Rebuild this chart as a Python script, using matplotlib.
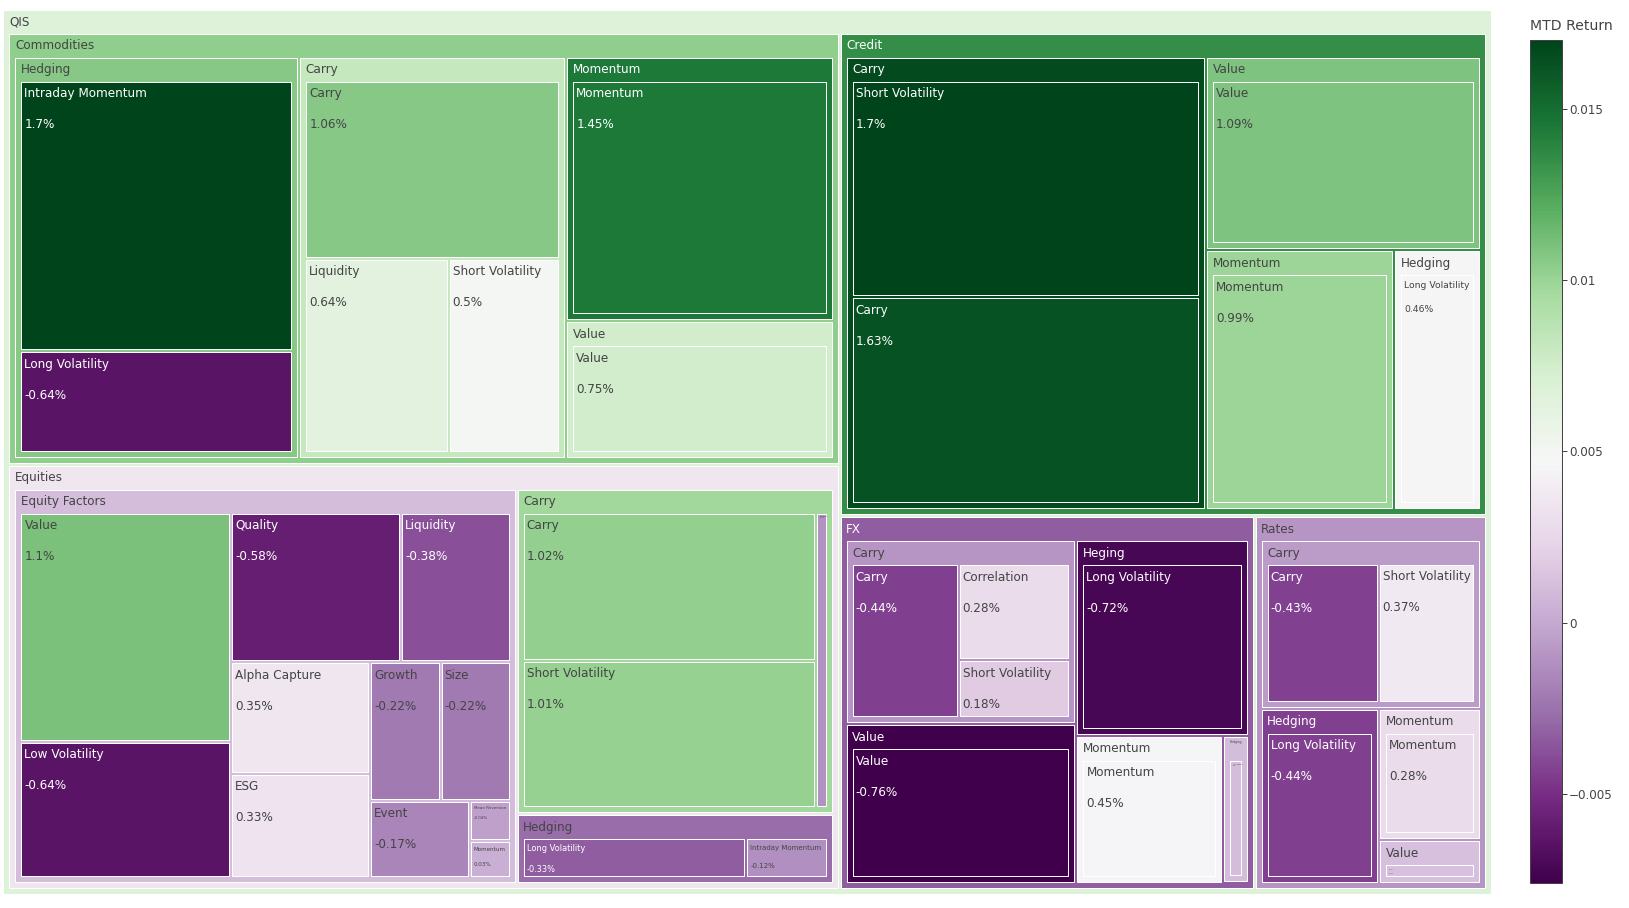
import matplotlib
matplotlib.use("Agg")
import matplotlib.pyplot as plt
from matplotlib.colors import LinearSegmentedColormap, Normalize
from matplotlib.patches import Rectangle
from matplotlib.cm import ScalarMappable

W, H, DPI = 1629, 908, 100

ROOT_LABEL = "QIS"
asset = ["Commodities"] * 7 + ["Equities"] * 16 + ["Credit"] * 5 + ["FX"] * 7 + ["Rates"] * 5
style = ["Hedging", "Hedging", "Carry", "Carry", "Carry", "Momentum", "Value",
         "Equity Factors", "Equity Factors", "Equity Factors", "Equity Factors", "Equity Factors",
         "Equity Factors", "Equity Factors", "Equity Factors", "Equity Factors", "Equity Factors",
         "Equity Factors", "Carry", "Carry", "Carry", "Hedging", "Hedging",
         "Carry", "Carry", "Value", "Momentum", "Hedging",
         "Carry", "Carry", "Carry", "Heging", "Value", "Momentum", "Hedging",
         "Carry", "Carry", "Hedging", "Momentum", "Value"]
strategy = ["Intraday Momentum", "Long Volatility", "Carry", "Liquidity", "Short Volatility", "Momentum", "Value",
            "Value", "Low Volatility", "Quality", "Liquidity", "Alpha Capture",
            "ESG", "Growth", "Size", "Event", "Mean Reversion",
            "Momentum", "Carry", "Short Volatility", "Momentum", "Long Volatility", "Intraday Momentum",
            "Short Volatility", "Carry", "Value", "Momentum", "Long Volatility",
            "Carry", "Correlation", "Short Volatility", "Long Volatility", "Value", "Momentum", "Long Volatility",
            "Carry", "Short Volatility", "Long Volatility", "Momentum", "Value"]
size = [83.8, 31.5, 51.8, 31.65, 24.67, 71.3, 36.9,
        53.9, 31.9, 28.4, 18.3, 17.4,
        16.2, 10.9, 10.9, 8.5, 1.86,
        1.67, 50.1, 49.9, 4.06, 16.2, 5.9,
        83.8, 80.1, 53.5, 49.0, 22.6,
        21.5, 14.0, 8.5, 34.9, 38.0, 22.4, 3.9,
        21.1, 18.2, 21.9, 14.2, 4.7]
mtd = [0.017, -0.0064, 0.0106, 0.0064, 0.005, 0.0145, 0.0075,
       0.011, -0.0064, -0.0058, -0.0038, 0.0035,
       0.0033, -0.0022, -0.0022, -0.0017, -0.0004,
       0.0003, 0.0102, 0.0101, -0.0011, -0.0033, -0.0012,
       0.017, 0.0163, 0.0109, 0.0099, 0.0046,
       -0.0044, 0.0028, 0.0018, -0.0072, -0.0076, 0.0045, 0.001,
       -0.0043, 0.0037, -0.0044, 0.0028, 0.0012]

cbar_ticks = [-0.005, 0, 0.005, 0.01, 0.015]
cbar_ticklabels = ["\u22120.005", "0", "0.005", "0.01", "0.015"]
cbar_title = "MTD Return"

PRGN = [(64, 0, 75), (118, 42, 131), (153, 112, 171), (194, 165, 207), (231, 212, 232),
        (247, 247, 247), (217, 240, 211), (166, 219, 160), (90, 174, 97), (27, 120, 55), (0, 68, 27)]
cmap = LinearSegmentedColormap.from_list(
    "prgn", [(i / 10, tuple(v / 255 for v in c)) for i, c in enumerate(PRGN)])
norm = Normalize(vmin=min(mtd), vmax=max(mtd))


class Node:
    def __init__(self, label, depth):
        self.label = label
        self.depth = depth
        self.children = []
        self.value = 0.0
        self.wsum = 0.0
        self.x0 = self.y0 = self.x1 = self.y1 = 0.0

    def child(self, label):
        for c in self.children:
            if c.label == label:
                return c
        c = Node(label, self.depth + 1)
        self.children.append(c)
        return c


root = Node(ROOT_LABEL, 0)
for a, s, t, v, m in zip(asset, style, strategy, size, mtd):
    leaf = Node(t, 3)
    leaf.value = v
    leaf.wsum = v * m
    root.child(a).child(s).children.append(leaf)


def accumulate(n):
    if n.children:
        n.value = 0.0
        n.wsum = 0.0
        for c in n.children:
            accumulate(c)
            n.value += c.value
            n.wsum += c.wsum
        n.children.sort(key=lambda c: -c.value)
    n.color_val = n.wsum / n.value


accumulate(root)

INNER, PT, PL, PR, PB = 3.0, 24.0, 6.0, 6.0, 6.0


def squarify(node, x0, y0, x1, y1, ratio=1.0):
    nodes = node.children
    n = len(nodes)
    value = node.value
    i0 = i1 = 0
    while i0 < n:
        dx, dy = x1 - x0, y1 - y0
        sumv = nodes[i1].value
        i1 += 1
        minv = maxv = sumv
        alpha = max(dy / dx, dx / dy) / (value * ratio)
        beta = sumv * sumv * alpha
        min_ratio = max(maxv / beta, beta / minv)
        while i1 < n:
            nv = nodes[i1].value
            sumv += nv
            minv, maxv = min(minv, nv), max(maxv, nv)
            beta = sumv * sumv * alpha
            new_ratio = max(maxv / beta, beta / minv)
            if new_ratio > min_ratio:
                sumv -= nv
                break
            min_ratio = new_ratio
            i1 += 1
        row = nodes[i0:i1]
        if dx < dy:
            ny = y0 + dy * sumv / value
            k = dx / sumv
            xx = x0
            for c in row:
                c.x0, c.x1, c.y0, c.y1 = xx, xx + c.value * k, y0, ny
                xx = c.x1
            y0 = ny
        else:
            nx = x0 + dx * sumv / value
            k = dy / sumv
            yy = y0
            for c in row:
                c.y0, c.y1, c.x0, c.x1 = yy, yy + c.value * k, x0, nx
                yy = c.y1
            x0 = nx
        value -= sumv
        i0 = i1


def position(node, p):
    x0, y0, x1, y1 = node.x0 + p, node.y0 + p, node.x1 - p, node.y1 - p
    if x1 < x0:
        x0 = x1 = (x0 + x1) / 2
    if y1 < y0:
        y0 = y1 = (y0 + y1) / 2
    node.x0, node.y0, node.x1, node.y1 = x0, y0, x1, y1
    if node.children:
        q = INNER / 2
        squarify(node, x0 + PL - q, y0 + PT - q, x1 - PR + q, y1 - PB + q)
        for c in node.children:
            position(c, q)


root.x0, root.y0, root.x1, root.y1 = 3.5, 9.5, 1491.0, 893.5
position(root, 0.0)

fig = plt.figure(figsize=(W / DPI, H / DPI), dpi=DPI)
ax = fig.add_axes([0, 0, 1, 1])
ax.set_xlim(0, W)
ax.set_ylim(H, 0)
ax.axis("off")
renderer = fig.canvas.get_renderer()
FONT = "DejaVu Sans"
PX = 0.72


def text_width(s, px=12):
    t = ax.text(0, 0, s, fontsize=px * PX, family=FONT)
    w = t.get_window_extent(renderer).width
    t.remove()
    return w


def fmt_pct(v):
    return f"{round(v * 100, 2):g}%"


def text_color(rgba):
    r, g, b = [c * 255 for c in rgba[:3]]
    return "#444444" if (r * 299 + g * 587 + b * 114) / 1000 > 128 else "white"


def draw(node):
    col = cmap(norm(node.color_val))
    w, h = node.x1 - node.x0, node.y1 - node.y0
    ax.add_patch(Rectangle((node.x0, node.y0), w, h, facecolor=col,
                           edgecolor="white", linewidth=1 * PX))
    tc = text_color(col)
    if node.children:
        tw = text_width(node.label)
        s = max(0.02, min(1.0, (w - 10) / tw))
        ax.text(node.x0 + 5.5, node.y0 + 3 + 12.6 * s, node.label, fontsize=12 * s * PX,
                family=FONT, color=tc, va="baseline", ha="left")
        for c in node.children:
            draw(c)
    else:
        val = fmt_pct(node.color_val)
        tw = max(text_width(node.label), text_width(val))
        s = max(0.02, min(1.0, (w - 6) / tw, (h - 4) / 47.0))
        b1 = node.y0 + 3 + 12.6 * s
        ax.text(node.x0 + 3, b1, node.label, fontsize=12 * s * PX, family=FONT,
                color=tc, va="baseline", ha="left")
        ax.text(node.x0 + 3, b1 + 31 * s, val, fontsize=12 * s * PX, family=FONT,
                color=tc, va="baseline", ha="left")


draw(root)

# colorbar
cb_x, cb_top, cb_w, cb_bot = 1530.0, 40.0, 32.0, 883.0
cax = fig.add_axes([cb_x / W, 1 - cb_bot / H, cb_w / W, (cb_bot - cb_top) / H])
sm = ScalarMappable(norm=norm, cmap=cmap)
cb = fig.colorbar(sm, cax=cax, ticks=cbar_ticks)
cb.ax.set_yticklabels(cbar_ticklabels)
cb.ax.tick_params(length=5 * PX, width=1 * PX, color="#444444", labelcolor="#444444",
                  labelsize=12 * PX, pad=2 * PX)
for lab in cb.ax.get_yticklabels():
    lab.set_family(FONT)
cb.outline.set_edgecolor("#444444")
cb.outline.set_linewidth(1 * PX)
fig.text(cb_x / W, 1 - 26 / H, cbar_title, fontsize=14 * PX, family=FONT,
         color="#444444", ha="left", va="center")

fig.savefig("out.png", dpi=DPI)
